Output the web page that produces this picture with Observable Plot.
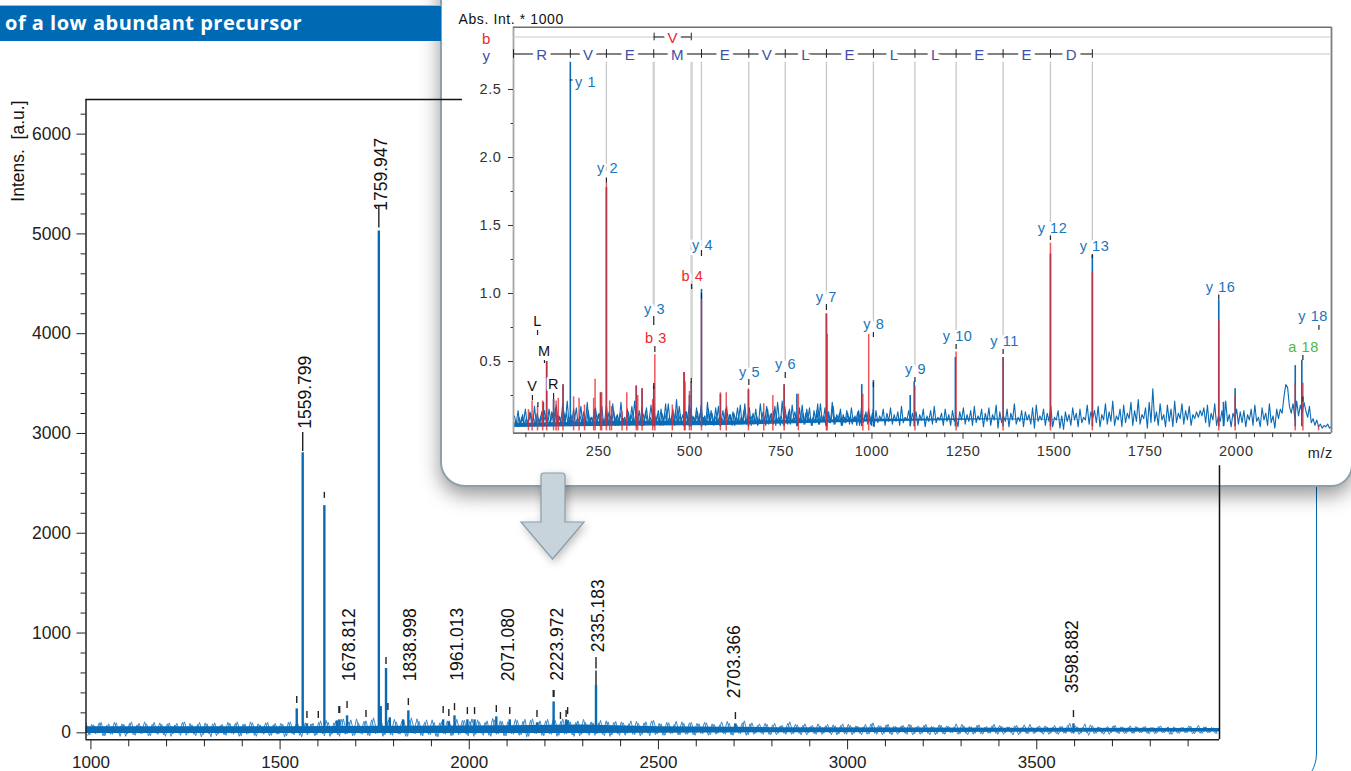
<!DOCTYPE html>
<html><head><meta charset="utf-8">
<script src="https://cdn.jsdelivr.net/npm/d3@7"></script>
<script src="https://cdn.jsdelivr.net/npm/@observablehq/plot@0.6"></script>
<style>
html,body{margin:0;padding:0;background:#fff;overflow:hidden}
#page{position:relative;width:1351px;height:771px;overflow:hidden;font-family:"Liberation Sans",Arial,sans-serif}
#banner{position:absolute;left:0;top:5px;width:441px;height:36px;background:#0069b4;border-top:1px solid #8fc0e0;box-sizing:border-box;color:#fff;font:700 20px/34px "Open Sans",sans-serif;letter-spacing:.5px;padding-left:5px;white-space:nowrap}
#panel{position:absolute;left:440px;top:-40px;width:913px;height:527px;box-sizing:border-box;background:#fff;border:2px solid #8ba0aa;border-radius:0 0 22px 25px;box-shadow:0 8px 20px rgba(0,0,0,.42)}
#edge{position:absolute;left:1200px;top:487px;width:115.5px;height:303px;border-right:1.3px solid #0069b4;border-bottom-right-radius:37px}
#arrow{position:absolute;left:515px;top:468px;filter:drop-shadow(2px 3px 4px rgba(0,0,0,.25))}
</style></head>
<body><div id="page">
<div id="edge"></div>
<div id="panel"></div>
<div id="banner">of a low abundant precursor</div>
</div>
<script>
// ---------- main MS spectrum ----------
const mainPeakMz  = [1544,1559.8,1571,1617,1650,1656.5,1677,1761,1766,1780,1790,1825,1839,1931,1946,1961,1995,2014,2071.5,2107,2179,2223,2256,2260,2335,2703.5,3597];
const mainPeakInt = [240,2808,90,2277,120,130,170,5030,263,645,150,130,220,130,110,170,130,130,160,130,100,310,130,120,475,90,90];
const mainLabelText = ["1559.799","1759.947","1678.812","1838.998","1961.013","2071.080","2223.972","2335.183","2703.366","3598.882"];
const mainLabelMz   = [1567,1767,1683,1844,1967.6,2104,2232,2342,2701,3594];
const mainLabelInt  = [3048,5232,517,517,522,517,522,808,347,397];
const mainDashMz  = [1544,1559.8,1571,1601,1617,1655.5,1657.5,1677,1727,1761,1780,1785,1839,1931,1946,1961,1995,2014,2071.5,2107,2179,2222,2224,2241,2256,2260,2335,2335,2703.5,3597];
const mainDashLow = [293,2820,143,143,2350,193,193,243,153,5060,684,223,273,193,163,223,183,183,203,183,153,353,353,133,153,183,475,640,133,153];
const mainDashHigh= [363,3010,213,213,2410,263,263,313,223,5280,754,293,343,263,233,293,253,253,273,253,223,423,423,203,223,253,620,755,203,223];
const mainNoise = [
95,-20,80,-5,105,-30,90,-15,100,-35,85,-10,110,-25,95,-5,90,-30,105,-15,
85,-35,100,-10,95,-25,110,-5,80,-30,105,-20,90,-40,100,-10,85,-25,95,-15,
110,-30,90,-5,100,-35,80,-15,105,-25,95,-10,85,-30,110,-20,90,-40,100,-5,
95,-20,120,-30,105,-15,115,-35,140,-10,130,-25,100,-15,120,-30,150,-5,125,-20,
130,-25,110,-15,125,-35,150,-10,115,-30,130,-20,105,-40,110,-15,120,-25,135,-5,
125,-30,140,-15,110,-25,120,-35,130,-10,115,-30,105,-15,125,-20,135,-35,140,-10,
120,-30,135,-15,125,-25,140,-10,110,-35,120,-15,105,-25,100,-10,125,-30,110,-20,
115,-25,100,-5,120,-20,95,-15,110,-30,125,-10,90,-25,100,-5,115,-20,95,-15,
105,-25,90,-10,100,-20,85,-5,110,-15,95,-25,80,-10,120,-20,100,-5,90,-15,
85,-20,95,-5,75,-15,110,-10,80,-20,90,0,75,-15,70,-5,85,-20,70,-10,
90,-15,75,-5,65,-20,85,-10,100,-15,70,-5,85,-20,65,0,75,-15,80,-10,
70,-5,85,-20,60,-10,75,-15,65,0,90,-10,70,-20,60,-5,80,-15,65,-5,
85,-15,65,0,60,-20,75,-5,80,-10,55,0,70,-15,60,-5,75,-15,65,-5,
95,-10,60,-5,90,-25,70,-5,55,-15,65,0,75,-10,60,-5,70,-5,55,0,
65,-10,55,-5,70,0,60,-15,50,-5,55,0,65,-10,75,-5,60,0,50,-10];
const mainNoiseB = [
-25,85,-10,100,-30,75,-15,105,-5,90,-35,95,-20,80,-10,110,-30,85,-5,100,
-20,90,-35,80,-5,105,-25,95,-15,85,-40,100,-10,90,-30,75,-20,105,-5,95,
-35,85,-15,110,-25,90,-5,100,-30,80,-15,95,-40,105,-10,85,-25,100,-20,90,
-30,105,-10,125,-35,100,-20,135,-15,110,-30,140,-5,115,-25,130,-10,105,-35,120,
-20,135,-10,115,-35,125,-5,140,-25,105,-15,130,-35,100,-10,120,-30,110,-20,125,
-15,115,-35,130,-5,105,-25,145,-15,120,-30,110,-10,135,-25,115,-40,125,-5,105,
-25,120,-10,130,-35,115,-15,125,-20,105,-30,135,-5,110,-25,100,-15,120,-35,105,
-10,110,-25,90,-15,115,-30,100,-5,120,-20,95,-25,105,-10,85,-20,110,-15,100,
-20,95,-5,105,-25,90,-15,80,-10,115,-20,85,-5,100,-25,90,-15,75,-5,95,
-15,80,-20,70,-5,95,-15,85,-5,75,-20,65,-10,90,-15,70,0,80,-20,75,
-10,85,-20,70,-5,60,-15,90,-5,75,-20,80,-10,65,-15,70,-5,85,-20,60,
-15,75,-5,65,-20,80,-10,70,0,60,-15,85,-5,65,-15,75,-10,55,-5,70,
-5,75,-15,60,0,70,-20,55,-5,85,-10,60,0,70,-15,55,-10,65,-5,75,
-5,70,-15,55,0,80,-10,60,-5,50,-15,70,0,60,-10,55,-5,65,0,60,
-5,55,-10,65,0,50,-15,60,-5,55,0,70,-10,50,-5,60,0,55,-5,50];
const coreMz = [987,1500,2000,2300,2500,2800,3200,3983];
const coreHi = [62,62,68,78,62,52,48,42];
const coreLo = [-6,-6,-6,-6,-4,0,4,8];
const mainXMajor = [1000,1500,2000,2500,3000,3500];
const mainXMinor = [1100,1200,1300,1400,1600,1700,1800,1900,2100,2200,2300,2400,2600,2700,2800,2900,3100,3200,3300,3400,3600,3700,3800,3900];
const mainYMajor = [0,1000,2000,3000,4000,5000,6000];
const mainYMinor = [200,400,600,800,1200,1400,1600,1800,2200,2400,2600,2800,3200,3400,3600,3800,4200,4400,4600,4800,5200,5400,5600,5800,6200];

// ---------- MS/MS inset ----------
const insetNoise = [
2,6,3,9,4,11,3,8,5,13,4,9,3,12,5,10,4,14,6,9,
4,13,5,16,4,10,5,19,6,12,4,9,5,15,4,8,6,17,4,11,
3,14,5,9,4,16,6,12,4,8,5,18,4,10,6,14,3,11,5,20,
5,9,4,13,6,17,4,10,5,14,3,12,7,16,4,9,5,18,4,11,
5,15,3,12,6,19,4,10,5,14,4,17,6,11,3,13,5,16,4,9,
6,13,4,18,5,10,4,15,6,12,3,16,5,9,6,14,4,17,5,11,
3,12,6,16,4,9,5,19,4,12,6,10,4,15,3,8,5,13,6,17,
4,11,5,14,3,20,6,10,4,17,5,13,4,18,6,11,3,16,5,12,
4,15,6,9,3,14,5,19,4,11,6,16,3,13,5,20,4,9,6,12,
3,11,5,14,6,10,4,9,6,13,3,16,5,11,7,15,4,12,2,14,
5,10,7,15,3,12,6,16,4,11,6,13,3,17,5,9,7,14,4,12,
6,13,3,11,7,15,2,10,6,14,4,17,5,9,7,12,3,15,6,11,
3,14,6,9,2,13,7,16,4,11,6,14,3,17,5,10,7,15,2,12,
6,16,3,11,7,18,1,13,5,10,6,15,2,12,7,19,4,9,6,14,
2,13,7,11,4,16,1,18,6,10,7,15,3,12,6,17,2,9,7,14,
1,10,0,13,6,11,3,16,7,12,2,15,5,9,7,18,4,13,8,14,
5,17,2,11,7,19,4,13,6,21,3,10,7,15,2,18,5,12,8,20,
3,14,6,22,4,11,8,16,1,20,5,30,6,13,3,19,7,11,2,18,
6,15,2,21,5,12,8,19,4,14,7,17,3,11,8,13,9,14,10,16,
5,18,2,12,7,19,3,10,6,14,3,21,6,11,2,12,8,15,4,13,
5,14,2,11,7,15,3,18,6,9,2,16,7,12,3,19,5,10,1,15,
8,15,12,24,33,31,17,12,19,8,21,10,18,12,20,14,9,17,5,8,
3,7,2,4,1,3,2,4,1,2];
const insetNoiseB = [
10,4,14,3,9,5,15,4,7,12,3,17,5,8,4,13,6,10,3,15,
6,12,4,18,5,9,3,14,6,21,4,11,5,7,16,3,10,5,13,4,
20,3,9,6,15,4,11,5,17,3,8,6,13,4,19,5,10,3,12,6,
8,4,15,3,11,5,21,6,9,4,16,3,13,5,7,18,4,10,6,14,
3,12,5,19,4,9,6,15,3,22,5,11,4,8,13,6,18,3,10,5,
16,4,12,6,9,3,20,5,14,4,10,6,17,3,8,5,15,4,11,6,
13,3,9,5,18,4,14,6,7,16,3,12,5,10,4,19,6,8,3,15,
5,12,4,17,6,9,3,21,5,11,4,15,6,8,13,3,10,5,18,4,
12,6,16,3,9,5,14,4,19,6,10,3,13,5,8,17,4,11,6,15,
3,9,5,12,4,16,6,10,3,14,5,8,7,13,4,11,3,15];
const insetCoreMz = [16,300,600,1000,1300,1600];
const insetCoreHi = [.045,.06,.06,.075,.08,.07];
const insetCoreLo = [.015,.025,.03,.055,.07,.07];
const bluePeakMz  = [98,107,126,152,172,255,271,353,369,401,484,499,504,532,584,661,759,794,875,972,1004,1105,1116,1229,1360,1490,1605,1952,1965,1997,2162,2180];
const bluePeakInt = [.2,.5,.22,.33,2.7,.27,1.78,.32,.3,.32,.42,.25,.35,1.03,.26,.29,.33,.26,.85,.33,.36,.25,.35,.53,.53,1.29,1.28,.95,.2,.3,.47,.51];
const redPeakMz  = [57,67,82,96,107,126,133,139,152,181,196,211,236,240,255,258,271,280,285,314,327,353,357,369,398,404,452,485,487,499,504,532,584,600,661,703,728,759,798,875,877,975,991,1118,1231,1360,1490,1605,1952,1997,2162,2183,2226];
const redPeakInt = [.147,.21,.17,.21,.5,.22,.21,.23,.33,.24,.23,.18,.23,.37,.27,.27,1.81,.21,.17,.13,.27,.32,.25,.3,.22,.55,.18,.42,.35,.28,.35,.95,.27,.27,.3,.19,.25,.33,.26,.85,.7,.26,.7,.32,.57,.53,1.37,1.16,.8,.25,.34,.34,.02];
const guideMz  = [271,532,662,762,875,1004,1118,1231,1360,1490,1605];
const guideLow = [1.9,1.35,.45,.5,.99,.79,.46,.7,.66,1.5,1.36];
const wideGuideMz  = [401,505];
const wideGuideLow = [.9,.37];
const labelText = ["y 1","y 2","y 3","y 4","y 5","y 6","y 7","y 8","y 9","y 10","y 11","y 12","y 13","y 16","y 18","b 3","b 4","a 18","L","M","V","R"];
const labelMz   = [213.6,274,403,535,664,763,875,1005,1119.5,1235,1364,1495.7,1611,1957,2211,407,507,2184.6,82,101,68,126];
const labelInt  = [2.551,1.919,.882,1.353,.419,.478,.971,.772,.441,.684,.647,1.478,1.346,1.044,.831,.669,1.125,.603,.794,.574,.316,.331];
const labelKind = ["y","y","y","y","y","y","y","y","y","y","y","y","y","y","y","b","b","a","x","x","x","x"];
const dashMz  = [82,101,68,126,83,271,401,404,505,504,401,532,532,662,762,875,1004,1004,1118,1231,1360,1490,1605,1952,2183,2227,2183];
const dashLow = [.691,.485,.213,.221,.162,1.81,.765,.566,1.03,.34,.294,1.272,.956,.324,.375,.875,.676,.309,.346,.588,.551,1.39,1.257,.95,.507,.73,.2];
const dashHigh= [.728,.507,.25,.265,.199,1.85,.831,.61,1.066,.375,.338,1.316,1,.368,.419,.919,.713,.346,.382,.625,.588,1.43,1.287,.99,.544,.765,.24];
const yLadderMz = [16,172,271,401,532,662,762,875,1004,1118,1231,1360,1490,1605];
const yResidues = ["R","V","E","M","E","V","L","E","L","L","E","E","D"];
const bLadderMz = [402,504];
const bResidues = ["V"];
const insetXMajor = [250,500,750,1000,1250,1500,1750,2000];
const insetXMinor = [50,100,150,200,300,350,400,450,550,600,650,700,800,850,900,950,1050,1100,1150,1200,1300,1350,1400,1450,1550,1600,1650,1700,1800,1850,1900,1950,2050,2100,2150,2200];
const insetYMajor = [.5,1,1.5,2,2.5];
const insetYMinor = [.25,.75,1.25,1.75,2.25];

const BLUE="#0a6ab4", FONT='"Liberation Sans",Arial,sans-serif';
const mainX0=987, mainX1=3983, mainY0=-70, mainY1=6347;
const ins={x0:16,x1:2261.5,y0:-.027,y1:2.958,rowB:2.886,rowY:2.761,guideTop:2.70};

const noiseRows = mainNoise.map((v,i)=>({x:987+10*i,y:v}));
const noiseRowsB = mainNoiseB.map((v,i)=>({x:992+10*i,y:v}));
const coreRows = coreMz.map((x,i)=>({x,hi:coreHi[i],lo:coreLo[i]}));

const mainPlot = Plot.plot({
  width:1351,height:771,marginLeft:85.5,marginRight:132,marginTop:99,marginBottom:31.7,
  style:{position:"absolute",left:0,top:0,background:"transparent",fontFamily:FONT,overflow:"visible"},
  x:{domain:[mainX0,mainX1],axis:null},y:{domain:[mainY0,mainY1],axis:null},
  marks:[
    Plot.line(noiseRows,{x:"x",y:"y",stroke:"#3d8bc9",strokeWidth:1}),
    Plot.line(noiseRowsB,{x:"x",y:"y",stroke:"#3d8bc9",strokeWidth:1}),
    Plot.areaY(coreRows,{x:"x",y1:"lo",y2:"hi",fill:BLUE}),
    Plot.ruleX(mainPeakMz,{x:d=>d,y1:0,y2:(d,i)=>mainPeakInt[i],stroke:BLUE,strokeWidth:2.4}),
    Plot.ruleX(mainDashMz,{x:d=>d,y1:(d,i)=>mainDashLow[i],y2:(d,i)=>mainDashHigh[i],stroke:"#222",strokeWidth:1.4}),
    Plot.text(mainLabelText,{text:d=>d,x:(d,i)=>mainLabelMz[i],y:(d,i)=>mainLabelInt[i],rotate:-90,textAnchor:"start",fontSize:17.5,fill:"#111"}),
    Plot.ruleX([mainX0],{y1:mainY0,y2:mainY1,stroke:"#222",strokeWidth:1.5}),
    Plot.ruleY([mainY0],{x1:mainX0,x2:mainX1,stroke:"#222",strokeWidth:1.5}),
    Plot.ruleY([mainY1],{x1:mainX0,x2:1982,stroke:"#111",strokeWidth:1.3}),
    Plot.ruleX([mainX1],{y1:mainY0,y2:2677,stroke:"#111",strokeWidth:1.5}),
    Plot.axisX({ticks:mainXMajor,tickSize:10,tickPadding:6.5,fontSize:17,label:null,color:"#222",tickFormat:d=>String(d)}),
    Plot.axisX({ticks:mainXMinor,tickSize:7,stroke:"#222",fill:"none",label:null}),
    Plot.axisY({ticks:mainYMajor,tickSize:9,tickPadding:6,fontSize:17.5,label:null,color:"#222",tickFormat:d=>String(d)}),
    Plot.axisY({ticks:mainYMinor,tickSize:5,stroke:"#222",fill:"none",label:null}),
    Plot.text(["Intens.\u00a0 [a.u.]"],{text:d=>d,x:mainX0-180,y:5830,rotate:-90,fontSize:17.5,fill:"#111"})
  ]
});

const kinds={y:"#1a75bc",b:"#e8262d",a:"#4db848",x:"#111"};
const labels=labelText.map((t,i)=>({t,x:labelMz[i],y:labelInt[i],k:labelKind[i]}));
const noise=insetNoise.map((v,i)=>({x:16+5*i,y:v/100}));
const noiseB=insetNoiseB.map((v,i)=>({x:18.5+5*i,y:v/100}));
const insetCore=insetCoreMz.map((x,i)=>({x,hi:insetCoreHi[i],lo:insetCoreLo[i]}));
const resRows=yResidues.map((t,i)=>({t,x:(yLadderMz[i]+yLadderMz[i+1])/2}));
const bRows=bResidues.map((t,i)=>({t,x:(bLadderMz[i]+bLadderMz[i+1])/2}));

const insetPlot = Plot.plot({
  width:1351,height:771,marginLeft:513,marginRight:20,marginTop:26.7,marginBottom:338.3,
  style:{position:"absolute",left:0,top:0,background:"transparent",fontFamily:FONT,letterSpacing:"0.6px",overflow:"visible"},
  x:{domain:[ins.x0,ins.x1],axis:null},y:{domain:[ins.y0,ins.y1],axis:null},
  marks:[
    Plot.ruleX(guideMz,{x:d=>d,y1:(d,i)=>guideLow[i],y2:ins.guideTop,stroke:"#c6c6c6",strokeWidth:1.3}),
    Plot.ruleX(wideGuideMz,{x:d=>d,y1:(d,i)=>wideGuideLow[i],y2:ins.guideTop,stroke:"#d4d4d4",strokeWidth:2.5}),
    Plot.line(noise,{x:"x",y:"y",stroke:BLUE,strokeWidth:1.1}),
    Plot.line(noiseB,{x:"x",y:"y",stroke:BLUE,strokeWidth:1.1}),
    Plot.areaY(insetCore,{x:"x",y1:"lo",y2:"hi",fill:BLUE}),
    Plot.ruleX(bluePeakMz,{x:d=>d,y1:.02,y2:(d,i)=>bluePeakInt[i],stroke:BLUE,strokeWidth:1.6}),
    Plot.ruleX(redPeakMz,{x:d=>d,y1:-.01,y2:(d,i)=>redPeakInt[i],stroke:"#e8262d",strokeWidth:1.5,strokeOpacity:.78}),
    Plot.ruleX(dashMz,{x:d=>d,y1:(d,i)=>dashLow[i],y2:(d,i)=>dashHigh[i],stroke:"#222",strokeWidth:1.2}),
    // axes & frame
    Plot.ruleX([ins.x0],{y1:ins.y0,y2:ins.y1,stroke:"#a6a6a6",strokeWidth:1.8}),
    Plot.ruleX([ins.x1],{y1:ins.y0,y2:ins.y1,stroke:"#7f7f7f",strokeWidth:1.8}),
    Plot.ruleY([ins.y0],{x1:ins.x0,x2:ins.x1,stroke:"#6f6f6f",strokeWidth:1.8}),
    Plot.ruleY([ins.y1],{x1:ins.x0,x2:ins.x1,stroke:"#6f6f6f",strokeWidth:1.6}),
    Plot.axisX({ticks:insetXMajor,tickSize:6,tickPadding:7,fontSize:14.5,label:null,color:"#333",tickFormat:d=>String(d)}),
    Plot.axisX({ticks:insetXMinor,tickSize:4.5,stroke:"#333",fill:"none",label:null}),
    Plot.axisY({ticks:insetYMajor,tickSize:5,tickPadding:7,fontSize:14.5,label:null,color:"#333",tickFormat:d3.format(".1f")}),
    Plot.axisY({ticks:insetYMinor,tickSize:2.5,stroke:"#333",fill:"none",label:null}),
    // sequence rows
    Plot.ruleY([ins.rowB,ins.rowY],{x1:ins.x0,x2:ins.x1,stroke:"#c8c8c8",strokeWidth:1}),
    Plot.ruleY([ins.rowY],{x1:yLadderMz[0],x2:yLadderMz[yLadderMz.length-1],stroke:"#222",strokeWidth:1}),
    Plot.ruleY([ins.rowB],{x1:bLadderMz[0],x2:bLadderMz[1],stroke:"#222",strokeWidth:1}),
    Plot.ruleX(yLadderMz,{x:d=>d,y1:ins.rowY-.032,y2:ins.rowY+.032,stroke:"#222",strokeWidth:1}),
    Plot.ruleX(bLadderMz,{x:d=>d,y1:ins.rowB-.028,y2:ins.rowB+.028,stroke:"#222",strokeWidth:1}),
    Plot.text(resRows,{text:"t",x:"x",y:ins.rowY,dy:1.5,fontSize:15,fill:"#3f51a3",stroke:"white",strokeWidth:9}),
    Plot.text(bRows,{text:"t",x:"x",y:ins.rowB,dy:1.5,fontSize:15,fill:"#e8262d",stroke:"white",strokeWidth:9}),
    Plot.text(["b"],{text:d=>d,x:-58,y:ins.rowB,dy:2.5,fontSize:15,fill:"#e8262d"}),
    Plot.text(["y"],{text:d=>d,x:-58,y:ins.rowY,dy:2.5,fontSize:15,fill:"#3f51a3"}),
    Plot.text(["Abs. Int. * 1000"],{text:d=>d,x:-135,y:3.015,textAnchor:"start",fontSize:14,fill:"#111"}),
    Plot.text(["m/z"],{text:d=>d,x:2231,y:-.176,fontSize:14.5,fill:"#222"}),
    Plot.ruleY([2.57],{x1:172,x2:190,stroke:"#222",strokeWidth:1}),
    // fragment labels
    ...Object.entries(kinds).map(([k,c])=>Plot.text(labels.filter(d=>d.k===k),{text:"t",x:"x",y:"y",fontSize:14.5,fill:c,stroke:"white",strokeWidth:5}))
  ]
});

const page=document.getElementById("page");
page.appendChild(mainPlot);
page.appendChild(insetPlot);
const ns="http://www.w3.org/2000/svg";
const arrow=document.createElementNS(ns,"svg");
arrow.setAttribute("id","arrow");arrow.setAttribute("width","80");arrow.setAttribute("height","100");
arrow.innerHTML='<path d="M29 5 H47 Q50 5 50 8 V54 H69 L37.5 91 L6 54 H26 V8 Q26 5 29 5 Z" fill="#c8d4dc" stroke="#8a9da8" stroke-width="1.2"/>';
page.appendChild(arrow);
</script>
</body></html>
